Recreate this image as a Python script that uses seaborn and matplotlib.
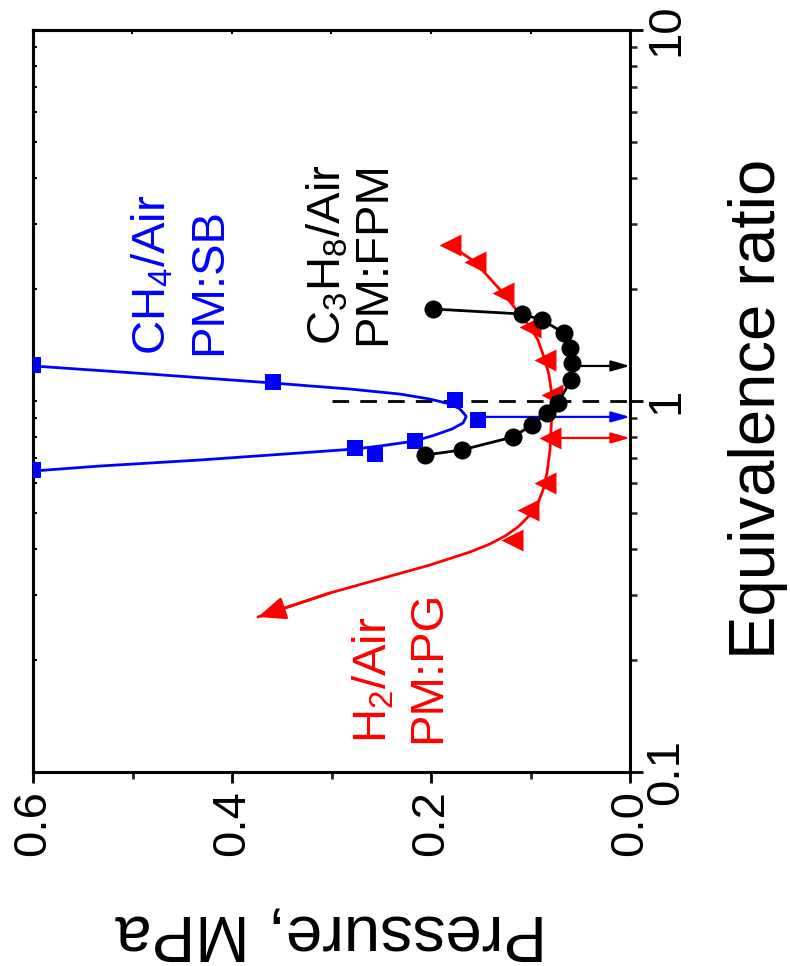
import matplotlib
matplotlib.use("Agg")
import matplotlib.pyplot as plt
import seaborn as sns
from matplotlib.ticker import FixedLocator, FixedFormatter, MultipleLocator, LogLocator, NullFormatter

# ---------------- data (phi = equivalence ratio, p = pressure in MPa) ----------------
# CH4/Air, PM:SB - measured points
ch4_phi = [1.25, 1.125, 1.006, 0.889, 0.78, 0.747, 0.72, 0.652]
ch4_p = [0.60, 0.359, 0.176, 0.153, 0.216, 0.276, 0.256, 0.60]
# CH4/Air fitted boundary curve
ch4_fit_phi = [1.243, 1.182, 1.118, 1.077, 1.044, 1.012, 0.9816, 0.9516, 0.9111, 0.9055,
               0.8724, 0.8406, 0.8098, 0.7801, 0.7562, 0.7423, 0.7244, 0.6934, 0.6679, 0.6475]
ch4_fit_p = [0.600, 0.4824, 0.3588, 0.2814, 0.2312, 0.2010, 0.1809, 0.1709, 0.1648, 0.1648,
             0.1678, 0.1789, 0.1960, 0.2161, 0.2513, 0.2764, 0.3317, 0.4322, 0.5327, 0.600]

# C3H8/Air, PM:FPM
c3h8_phi = [1.77, 1.716, 1.653, 1.525, 1.39, 1.266, 1.139, 0.988, 0.928, 0.862, 0.80, 0.738, 0.715]
c3h8_p = [0.198, 0.1085, 0.0884, 0.0663, 0.0603, 0.0583, 0.0593, 0.0724, 0.0834, 0.0985, 0.1176, 0.169, 0.206]

# H2/Air, PM:PG - measured points
h2_phi = [2.63, 2.37, 1.955, 1.583, 1.29, 1.038, 0.795, 0.601, 0.508, 0.422]
h2_p = [0.181, 0.156, 0.128, 0.1005, 0.0854, 0.0784, 0.0804, 0.0854, 0.1025, 0.1186]
# H2/Air fitted boundary curve
h2_fit_phi = [2.633, 2.370, 1.955, 1.583, 1.460, 1.290, 1.175, 1.038, 0.946, 0.835, 0.738,
              0.6396, 0.5755, 0.5310, 0.4930, 0.4575, 0.4326, 0.4118, 0.3917, 0.3614, 0.3038, 0.2617]
h2_fit_p = [0.1809, 0.1558, 0.1276, 0.1005, 0.0925, 0.0854, 0.0814, 0.0784, 0.0784, 0.0794, 0.0804,
            0.0834, 0.0874, 0.0925, 0.1005, 0.1126, 0.1256, 0.1407, 0.1608, 0.2010, 0.3015, 0.3739]

# arrows pointing to atmospheric side (p -> 0)
arrow_phi = [0.906, 1.243, 0.795]
arrow_start_p = [0.150, 0.053, 0.074]
arrow_colors = ["#0000FF", "#000000", "#FF0000"]

# stoichiometric reference line
stoich_phi = 1.0
stoich_p = [0.30, 0.0]

# axis ticks
p_ticks = [0.6, 0.4, 0.2, 0.0]
p_tick_labels = ["0.6", "0.4", "0.2", "0.0"]
phi_ticks = [0.1, 1, 10]
phi_tick_labels = ["0.1", "1", "10"]

# ---------------- style ----------------
sns.set_theme(style="white")
plt.rcParams["font.family"] = ["Liberation Sans", "DejaVu Sans"]
plt.rcParams["mathtext.fontset"] = "custom"
plt.rcParams["mathtext.rm"] = "Liberation Sans"
plt.rcParams["mathtext.it"] = "Liberation Sans:italic"
plt.rcParams["mathtext.bf"] = "Liberation Sans:bold"

BLUE, RED, BLACK = "#0000FF", "#FF0000", "#000000"

fig = plt.figure(figsize=(7.9, 9.66), dpi=100)
ax = fig.add_axes([33 / 790, 1 - 772 / 966, (630 - 33) / 790, (772 - 30) / 966])

# curves
sns.lineplot(x=ch4_fit_p, y=ch4_fit_phi, sort=False, estimator=None, color=BLUE, lw=2.0, ax=ax)
sns.scatterplot(x=ch4_p, y=ch4_phi, marker="s", s=125, color=BLUE, linewidth=0, ax=ax, zorder=3)

sns.lineplot(x=h2_fit_p, y=h2_fit_phi, sort=False, estimator=None, color=RED, lw=2.0, ax=ax)
sns.scatterplot(x=h2_p, y=h2_phi, marker="<", s=250, color=RED, linewidth=0, ax=ax, zorder=3)

sns.lineplot(x=c3h8_p, y=c3h8_phi, sort=False, estimator=None, color=BLACK, lw=2.0,
             marker="o", markersize=13, markeredgewidth=0, ax=ax, zorder=4)

# arrowhead at the end of the H2 curve
ax.annotate("", xy=(h2_fit_p[-1], h2_fit_phi[-1]), xytext=(h2_fit_p[-2], h2_fit_phi[-2]),
            arrowprops=dict(arrowstyle="-|>,head_length=0.6,head_width=0.25", color=RED,
                            lw=2.0, mutation_scale=28, shrinkA=0, shrinkB=0))

# horizontal arrows toward p = 0
for ph, p0, c in zip(arrow_phi, arrow_start_p, arrow_colors):
    ax.annotate("", xy=(0.0, ph), xytext=(p0, ph),
                arrowprops=dict(arrowstyle="-|>,head_length=0.7,head_width=0.2", color=c,
                                lw=1.6, mutation_scale=16, shrinkA=0, shrinkB=0),
                zorder=2)

# stoichiometric dashed line
ax.plot(stoich_p, [stoich_phi, stoich_phi], color=BLACK, lw=2.0, ls=(0, (6, 4)), zorder=1)

# axes setup (figure is shown rotated: pressure horizontal, equivalence ratio vertical)
ax.set_yscale("log")
ax.set_xlim(0.6, 0.0)
ax.set_ylim(0.1, 10)

ax.xaxis.set_major_locator(FixedLocator(p_ticks))
ax.xaxis.set_major_formatter(FixedFormatter(p_tick_labels))
ax.xaxis.set_minor_locator(FixedLocator([0.5, 0.3, 0.1]))

ax.yaxis.tick_right()
ax.yaxis.set_label_position("right")
ax.yaxis.set_major_locator(FixedLocator(phi_ticks))
ax.yaxis.set_major_formatter(FixedFormatter(phi_tick_labels))
ax.yaxis.set_minor_locator(LogLocator(base=10, subs=[2, 3, 4, 5, 6, 7, 8, 9]))
ax.yaxis.set_minor_formatter(NullFormatter())

TICKFS = 34
ax.tick_params(axis="x", which="major", direction="out", length=8, width=2.0, pad=5,
               labelsize=TICKFS, labelrotation=90, color=BLACK, labelcolor=BLACK,
               bottom=True, top=False)
ax.tick_params(axis="x", which="minor", direction="out", length=5, width=2.0, bottom=True, top=False)
ax.tick_params(axis="y", which="major", direction="out", length=9, width=2.0, pad=1,
               labelsize=TICKFS, labelrotation=90, color=BLACK, labelcolor=BLACK,
               right=True, left=False)
ax.tick_params(axis="y", which="minor", direction="out", length=5, width=1.8, right=True, left=False)
for lab in ax.get_yticklabels():
    lab.set_verticalalignment("center")

for s in ax.spines.values():
    s.set_color(BLACK)
    s.set_linewidth(2.2)

# tiny mirror ticks on the top and left spines
sec_top = ax.secondary_xaxis("top")
sec_top.xaxis.set_major_locator(MultipleLocator(0.1))
sec_top.xaxis.set_major_formatter(NullFormatter())
sec_top.tick_params(direction="in", length=3, width=1.5, color=BLACK)
sec_top.spines["top"].set_linewidth(2.2)

sec_left = ax.secondary_yaxis("left")
sec_left.yaxis.set_major_locator(FixedLocator(phi_ticks))
sec_left.yaxis.set_major_formatter(NullFormatter())
sec_left.yaxis.set_minor_locator(LogLocator(base=10, subs=[2, 3, 4, 5, 6, 7, 8, 9]))
sec_left.yaxis.set_minor_formatter(NullFormatter())
sec_left.tick_params(which="both", direction="in", length=3, width=1.5, color=BLACK)
sec_left.spines["left"].set_linewidth(2.2)

# axis labels
LABFS = 47
ax.set_xlabel("Pressure, MPa", fontsize=LABFS, rotation=180, color=BLACK)
ax.set_ylabel("Equivalence ratio", fontsize=LABFS, rotation=90, color=BLACK)
ax.xaxis.label.set_verticalalignment("center")
ax.xaxis.label.set_horizontalalignment("center")
ax.yaxis.label.set_verticalalignment("center")
ax.yaxis.label.set_horizontalalignment("center")
ax.xaxis.set_label_coords(0.5, -0.216)
ax.yaxis.set_label_coords(1.215, 0.49)

# annotations (rotated text, baseline anchored)
ANNFS = 34
txt = dict(rotation=90, rotation_mode="anchor", ha="left", va="baseline", fontsize=ANNFS)
ax.text(0.467, 1.33, "CH$_4$/Air", color=BLUE, **txt)
ax.text(0.411, 1.33, "PM:SB", color=BLUE, **txt)
ax.text(0.291, 1.416, "C$_3$H$_8$/Air", color=BLACK, **txt)
ax.text(0.246, 1.416, "PM:FPM", color=BLACK, **txt)
ax.text(0.245, 0.12, "H$_2$/Air", color=RED, **txt)
ax.text(0.191, 0.12, "PM:PG", color=RED, **txt)

fig.savefig("out.png", dpi=100)
